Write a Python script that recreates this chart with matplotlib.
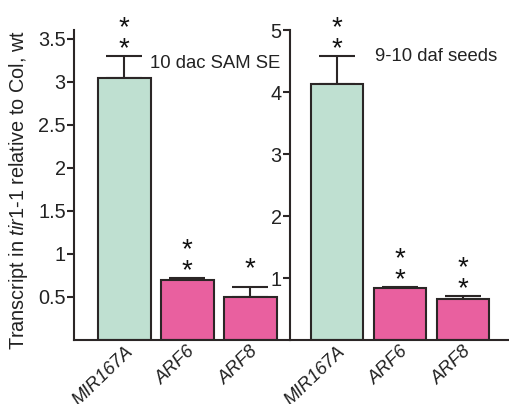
import matplotlib.pyplot as plt
from matplotlib.transforms import ScaledTranslation

plt.rcParams.update({'font.family': 'Liberation Sans', 'mathtext.fontset': 'custom',
                     'mathtext.it': 'Liberation Sans:italic', 'mathtext.rm': 'Liberation Sans'})

genes = ['MIR167A', 'ARF6', 'ARF8']
sam_mean = [3.04, 0.70, 0.50]
sam_err = [0.26, 0.02, 0.12]
sam_stars = [2, 2, 1]
seed_mean = [4.13, 0.84, 0.66]
seed_err = [0.45, 0.02, 0.05]
seed_stars = [2, 2, 2]
sam_ticks = [0.5, 1, 1.5, 2, 2.5, 3, 3.5]
seed_ticks = [1, 2, 3, 4, 5]

GREEN = '#BFE0D1'; PINK = '#E9609F'; EDGE = '#2B2626'
colors = [GREEN, PINK, PINK]
FS = 13.3; FS_TICK = 14.3; FS_STAR = 20

fig = plt.figure(figsize=(5.1, 4.04), dpi=100)
W, H = 510, 404
ax1 = fig.add_axes([74/W, 64/H, 216/W, 310/H])
ax2 = fig.add_axes([290/W, 64/H, 220/W, 310/H])


def panel(ax, mean, err, stars, ticks, ylim, xlim, label, lpos):
    x = list(range(len(genes)))
    ax.errorbar(x, mean, yerr=[[0]*len(err), err], fmt='none', ecolor=EDGE,
                elinewidth=1.5, capsize=13, capthick=1.5, zorder=1)
    ax.bar(x, mean, width=0.84, color=colors, edgecolor=EDGE, lw=1.5, zorder=2)
    em = FS_STAR * 100 / 72
    for i, n in enumerate(stars):
        top = mean[i] + err[i]
        base = 16 + 21 * (2 - n) / 2
        for k in range(n):
            ax.annotate('*', xy=(i, top), xytext=(0, base + 21*k - 0.58*em),
                        textcoords='offset pixels', ha='center', va='baseline',
                        fontsize=FS_STAR, color='#111111', annotation_clip=False)
    ax.set_xlim(*xlim)
    ax.set_ylim(*ylim)
    ax.set_yticks(ticks)
    ax.set_yticklabels([f'{t:g}' for t in ticks])
    ax.set_xticks(x)
    ax.set_xticklabels(genes, rotation=44, ha='right', va='top', rotation_mode='anchor',
                       style='italic', fontsize=FS, color='#222222')
    off = ScaledTranslation(32/100, 0, fig.dpi_scale_trans)
    for t in ax.get_xticklabels():
        t.set_transform(t.get_transform() + off)
    for s in ['top', 'right']:
        ax.spines[s].set_visible(False)
    for s in ['left', 'bottom']:
        ax.spines[s].set_linewidth(1.5)
        ax.spines[s].set_color(EDGE)
    ax.tick_params(axis='y', length=5, width=1.5, color=EDGE, labelsize=FS_TICK, pad=1,
                   labelcolor='#222222')
    ax.tick_params(axis='x', length=0, pad=2)
    ax.text(lpos[0], lpos[1], label, transform=ax.transAxes, va='center', ha='left',
            fontsize=FS, color='#222222')


panel(ax1, sam_mean, sam_err, sam_stars, sam_ticks, (0, 3.6), (-0.80, 2.63),
      '10 dac SAM SE', (0.352, 0.893))
panel(ax2, seed_mean, seed_err, seed_stars, seed_ticks, (0, 5), (-0.746, 2.746),
      '9-10 daf seeds', (0.386, 0.916))

fig.text(19/W, 1 - 190/H, r'Transcript in $\mathit{tir1}$-$\mathit{1}$ relative to Col, wt',
         rotation=90, ha='center', va='center', fontsize=14.3, color='#222222')

fig.savefig('out.png', dpi=100, facecolor='white')
